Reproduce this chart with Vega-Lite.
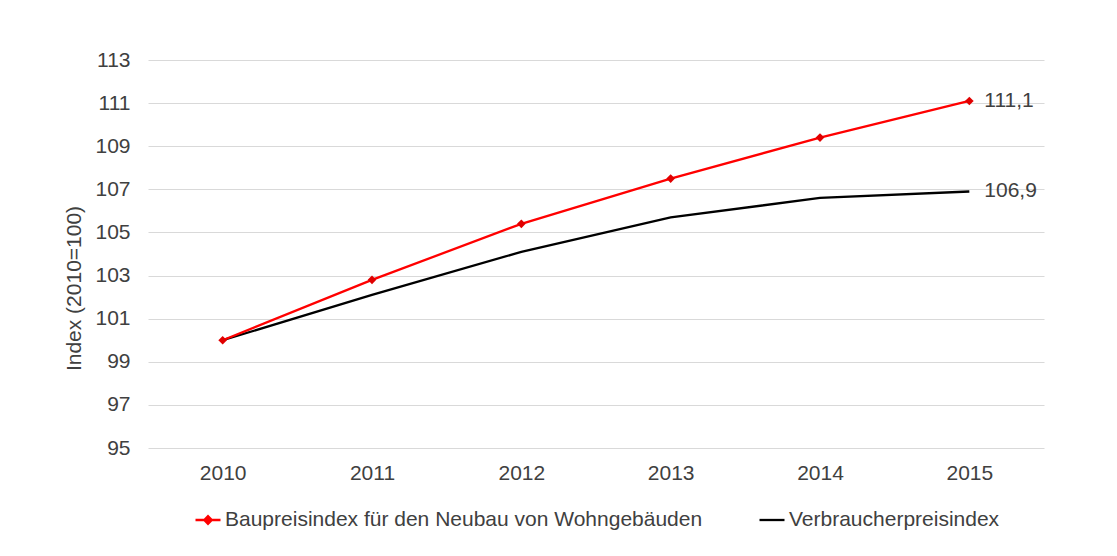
{
  "$schema": "https://vega.github.io/schema/vega-lite/v6.json",
  "width": 896,
  "height": 388,
  "autosize": {"type": "none"},
  "padding": {"left": 148, "top": 60, "right": 73, "bottom": 108},
  "background": "white",
  "config": {
    "locale": {"number": {"decimal": ",", "thousands": ".", "grouping": [3], "currency": ["", " €"]}},
    "view": {"stroke": null},
    "font": "Liberation Sans"
  },
  "data": {
    "values": [
      {"year": "2010", "series": "Verbraucherpreisindex", "value": 100.0},
      {"year": "2011", "series": "Verbraucherpreisindex", "value": 102.1},
      {"year": "2012", "series": "Verbraucherpreisindex", "value": 104.1},
      {"year": "2013", "series": "Verbraucherpreisindex", "value": 105.7},
      {"year": "2014", "series": "Verbraucherpreisindex", "value": 106.6},
      {"year": "2015", "series": "Verbraucherpreisindex", "value": 106.9},
      {"year": "2010", "series": "Baupreisindex für den Neubau von Wohngebäuden", "value": 100.0},
      {"year": "2011", "series": "Baupreisindex für den Neubau von Wohngebäuden", "value": 102.8},
      {"year": "2012", "series": "Baupreisindex für den Neubau von Wohngebäuden", "value": 105.4},
      {"year": "2013", "series": "Baupreisindex für den Neubau von Wohngebäuden", "value": 107.5},
      {"year": "2014", "series": "Baupreisindex für den Neubau von Wohngebäuden", "value": 109.4},
      {"year": "2015", "series": "Baupreisindex für den Neubau von Wohngebäuden", "value": 111.1}
    ]
  },
  "encoding": {
    "x": {
      "field": "year", "type": "ordinal",
      "scale": {"type": "point", "padding": 0.5},
      "axis": {
        "title": null, "labelAngle": 0, "ticks": false, "domain": false, "grid": false,
        "labelFontSize": 21, "labelColor": "#404040", "labelPadding": 14, "labelFont": "Liberation Sans"
      }
    },
    "y": {
      "field": "value", "type": "quantitative",
      "scale": {"domain": [95, 113], "zero": false, "nice": false},
      "axis": {
        "title": "Index (2010=100)", "values": [95, 97, 99, 101, 103, 105, 107, 109, 111, 113],
        "ticks": false, "domain": false, "grid": true, "gridColor": "#d9d9d9", "gridWidth": 1,
        "labelFontSize": 21, "labelColor": "#404040", "labelPadding": 18, "labelFont": "Liberation Sans",
        "titleFontSize": 21, "titleFontWeight": "normal", "titleColor": "#404040", "titleFont": "Liberation Sans",
        "titleX": -68, "titleY": 228, "titleBaseline": "alphabetic", "titleAngle": -90, "titleAlign": "center"
      }
    }
  },
  "layer": [
    {
      "mark": {"type": "line", "strokeWidth": 2.3},
      "encoding": {
        "color": {
          "field": "series", "type": "nominal",
          "scale": {
            "domain": ["Baupreisindex für den Neubau von Wohngebäuden", "Verbraucherpreisindex"],
            "range": ["#ff0000", "#000000"]
          },
          "legend": {
            "orient": "none", "legendX": 46, "legendY": 446, "direction": "horizontal", "title": null,
            "symbolType": "stroke", "symbolSize": 625, "symbolStrokeWidth": 2.3,
            "labelFontSize": 21, "labelFont": "Liberation Sans", "labelColor": "#404040",
            "labelOffset": 3, "columnPadding": 51, "labelLimit": 0,
            "encode": {
              "symbols": {
                "update": {
                  "shape": {"signal": "datum.value === 'Baupreisindex für den Neubau von Wohngebäuden' ? 'M-1,0L1,0M-0.3,0L0,-0.3L0.3,0L0,0.3Z' : 'stroke'"},
                  "fill": {"signal": "datum.value === 'Baupreisindex für den Neubau von Wohngebäuden' ? '#ff0000' : 'transparent'"}
                }
              }
            }
          }
        }
      }
    },
    {
      "transform": [{"filter": "datum.series === 'Baupreisindex für den Neubau von Wohngebäuden'"}],
      "mark": {"type": "point", "shape": "diamond", "filled": true, "size": 75, "color": "#e00000", "opacity": 1},
      "encoding": {}
    },
    {
      "transform": [{"filter": "datum.year === '2015'"}],
      "mark": {"type": "text", "align": "left", "baseline": "middle", "dx": 15, "fontSize": 21, "font": "Liberation Sans", "color": "#404040"},
      "encoding": {
        "text": {"field": "value", "type": "quantitative", "format": ".1f"}
      }
    }
  ]
}
